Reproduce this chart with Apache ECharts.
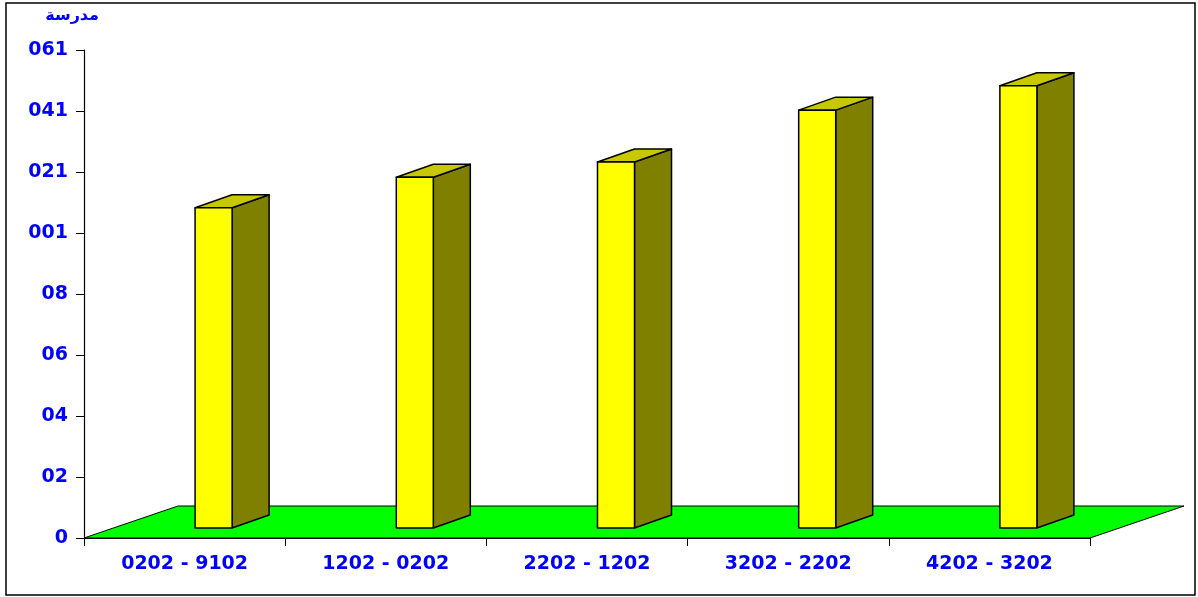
<!DOCTYPE html>
<html>
<head>
<meta charset="utf-8">
<script src="https://cdn.jsdelivr.net/npm/echarts@6/dist/echarts.min.js"></script>
<style>
html, body { margin: 0; padding: 0; background: #fff; }
#chart { width: 1198px; height: 597px; }
</style>
</head>
<body>
<div id="chart"></div>
<script>
// 数据
var categories = ['0202 - 9102', '1202 - 0202', '2202 - 1202', '3202 - 2202', '4202 - 3202'];
var values = [105, 115, 120, 137, 145];
var yTickLabels = ['0', '02', '04', '06', '08', '001', '021', '041', '061'];
var unitLabel = 'مدرسة';

// 3D 偏移 (像素)
var floorDx = 94, floorDy = -32;
var barFrontDx = 29, barFrontDy = -10;
var barDepthDx = 37, barDepthDy = -13;
var barWidthRatio = 0.184;

var labelFont = {
    color: '#0000ff',
    fontWeight: 'bold',
    fontSize: 19,
    fontFamily: '"DejaVu Sans", sans-serif'
};

var myChart = echarts.init(document.getElementById('chart'));

var option = {
    animation: false,
    grid: { left: 84, right: 108, top: 50, bottom: 59 },
    graphic: [
        {
            type: 'rect',
            shape: { x: 6, y: 3, width: 1189, height: 592 },
            style: { fill: 'none', stroke: '#000', lineWidth: 1.5 },
            z: 0
        },
        {
            type: 'text',
            x: 99,
            y: 8,
            style: {
                text: unitLabel,
                align: 'right',
                fill: '#0000ff',
                font: 'bold 16px "DejaVu Sans", "Noto Sans", sans-serif'
            }
        }
    ],
    xAxis: {
        type: 'category',
        data: categories,
        boundaryGap: true,
        axisLine: { lineStyle: { color: '#000', width: 1.2 } },
        axisTick: { show: true, length: 8, lineStyle: { color: '#000' } },
        axisLabel: Object.assign({ margin: 17, interval: 0 }, labelFont),
        splitLine: { show: false }
    },
    yAxis: {
        type: 'value',
        min: 0,
        max: 160,
        interval: 20,
        axisLine: { show: true, lineStyle: { color: '#000', width: 1.2 } },
        axisTick: { show: true, length: 8, lineStyle: { color: '#000' } },
        axisLabel: Object.assign({
            margin: 16,
            formatter: function(v) {
                return yTickLabels[Math.round(v / 20)];
            }
        }, labelFont),
        splitLine: { show: false }
    },
    series: [
        {
            // 地板
            type: 'custom',
            z: 1,
            data: [[0, 0]],
            renderItem: function(params, api) {
                var band = api.size([1, 0])[0];
                var left = api.coord([0, 0]);
                var right = api.coord([categories.length - 1, 0]);
                var x0 = left[0] - band / 2, x1 = right[0] + band / 2, y = left[1];
                return {
                    type: 'polygon',
                    shape: {
                        points: [
                            [x0, y], [x1, y],
                            [x1 + floorDx, y + floorDy], [x0 + floorDx, y + floorDy]
                        ]
                    },
                    style: { fill: '#00ff00', stroke: '#000', lineWidth: 1 }
                };
            }
        },
        {
            // 柱子
            type: 'custom',
            z: 2,
            data: values.map(function(v, i) { return [i, v]; }),
            renderItem: function(params, api) {
                var idx = api.value(0);
                var base = api.coord([idx, 0]);
                var top = api.coord([idx, api.value(1)]);
                var band = api.size([1, 0])[0];
                var w = band * barWidthRatio;
                var x0 = base[0] + barFrontDx - w / 2;
                var x1 = x0 + w;
                var yb = base[1] + barFrontDy;
                var yt = top[1] + barFrontDy;
                var stroke = { stroke: '#000', lineWidth: 1.5, lineJoin: 'round' };
                return {
                    type: 'group',
                    children: [
                        {
                            type: 'polygon',
                            shape: { points: [[x1, yb], [x1 + barDepthDx, yb + barDepthDy], [x1 + barDepthDx, yt + barDepthDy], [x1, yt]] },
                            style: Object.assign({ fill: '#808000' }, stroke)
                        },
                        {
                            type: 'polygon',
                            shape: { points: [[x0, yt], [x1, yt], [x1 + barDepthDx, yt + barDepthDy], [x0 + barDepthDx, yt + barDepthDy]] },
                            style: Object.assign({ fill: '#c8c800' }, stroke)
                        },
                        {
                            type: 'rect',
                            shape: { x: x0, y: yt, width: w, height: yb - yt },
                            style: Object.assign({ fill: '#ffff00' }, stroke)
                        }
                    ]
                };
            }
        }
    ]
};

myChart.setOption(option);
</script>
</body>
</html>
